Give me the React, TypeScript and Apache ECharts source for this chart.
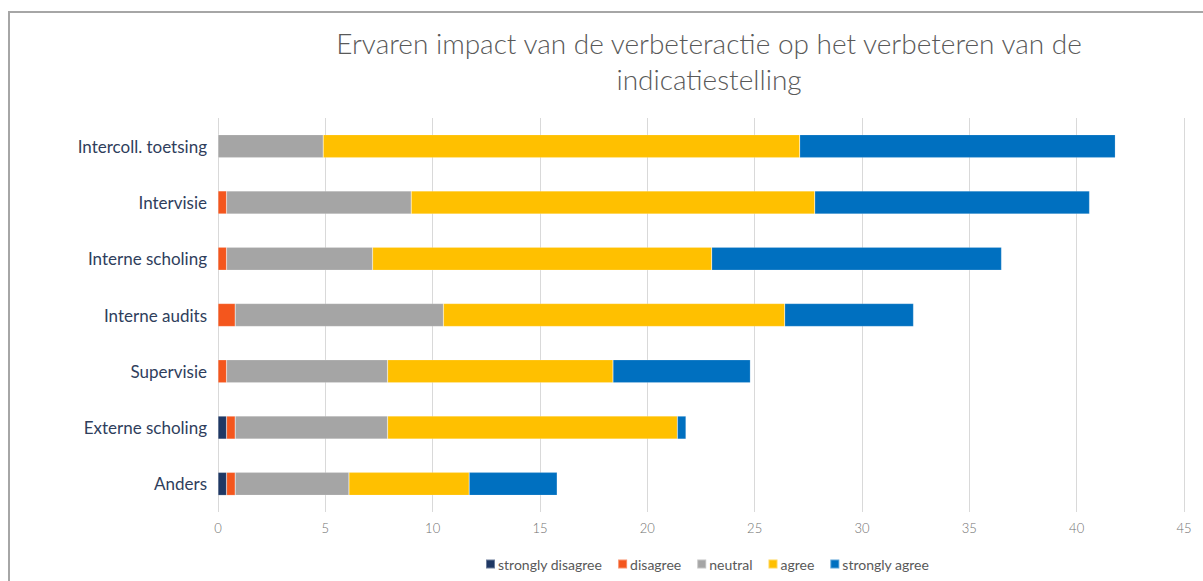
import React, { useEffect, useRef } from "react";
import * as echarts from "echarts";

const categories = [
  "Intercoll. toetsing",
  "Intervisie",
  "Interne scholing",
  "Interne audits",
  "Supervisie",
  "Externe scholing",
  "Anders",
];

const stronglyDisagree = [0, 0, 0, 0, 0, 0.4, 0.4];
const disagree = [0, 0.4, 0.4, 0.8, 0.4, 0.4, 0.4];
const neutral = [4.9, 8.6, 6.8, 9.7, 7.5, 7.1, 5.3];
const agree = [22.2, 18.8, 15.8, 15.9, 10.5, 13.5, 5.6];
const stronglyAgree = [14.7, 12.8, 13.5, 6.0, 6.4, 0.4, 4.1];

const seriesNames = ["strongly disagree", "disagree", "neutral", "agree", "strongly agree"];
const seriesColors = ["#1F3864", "#F4561D", "#A5A5A5", "#FFC000", "#0070C0"];
const seriesData = [stronglyDisagree, disagree, neutral, agree, stronglyAgree];

const titleText = "Ervaren impact van de verbeteractie op het verbeteren van de\nindicatiestelling";

export default function App() {
  const ref = useRef<HTMLDivElement>(null);
  useEffect(() => {
    if (!ref.current) return;
    const chart = echarts.init(ref.current, null, { renderer: "svg" });
    chart.setOption({
      animation: false,
      backgroundColor: "#ffffff",
      textStyle: { fontFamily: "Lato" },
      title: {
        text: titleText,
        left: 704,
        top: 20,
        textAlign: "center",
        textStyle: {
          fontFamily: "Lato",
          fontWeight: 300,
          fontSize: 28,
          color: "#595959",
          lineHeight: 36,
        },
      },
      graphic: [
        {
          type: "rect",
          shape: { x: 9, y: 12, width: 1210, height: 620 },
          style: { fill: "none", stroke: "#A6A6A6", lineWidth: 2 },
          silent: true,
        },
      ],
      legend: {
        left: 480,
        top: 552,
        itemWidth: 9,
        itemHeight: 9,
        itemGap: 15,
        icon: "rect",
        textStyle: { fontFamily: "Lato", fontSize: 14, color: "#595959", padding: [0, 0, 0, -2] },
        data: seriesNames,
      },
      grid: { left: 218, right: 19, top: 118, bottom: 69 },
      xAxis: {
        type: "value",
        min: 0,
        max: 45,
        interval: 5,
        axisLine: { show: false },
        axisTick: { show: false },
        axisLabel: { color: "#707070", fontSize: 13, fontWeight: 300, margin: 9 },
        splitLine: { lineStyle: { color: "#D9D9D9", width: 1 } },
      },
      yAxis: {
        type: "category",
        data: categories,
        inverse: true,
        axisLine: { show: false },
        axisTick: { show: false },
        axisLabel: { color: "#2F3E5C", fontSize: 17, margin: 11 },
      },
      series: seriesNames.map((name, i) => ({
        name,
        type: "bar",
        stack: "total",
        barWidth: 23,
        data: seriesData[i],
        itemStyle: { color: seriesColors[i], borderColor: "rgba(255,255,255,0.35)", borderWidth: 0.5 },
      })),
    });
    return () => chart.dispose();
  }, []);
  return (
    <div
      ref={ref}
      style={{ position: "fixed", left: 0, top: 0, width: 1203, height: 581 }}
    />
  );
}
